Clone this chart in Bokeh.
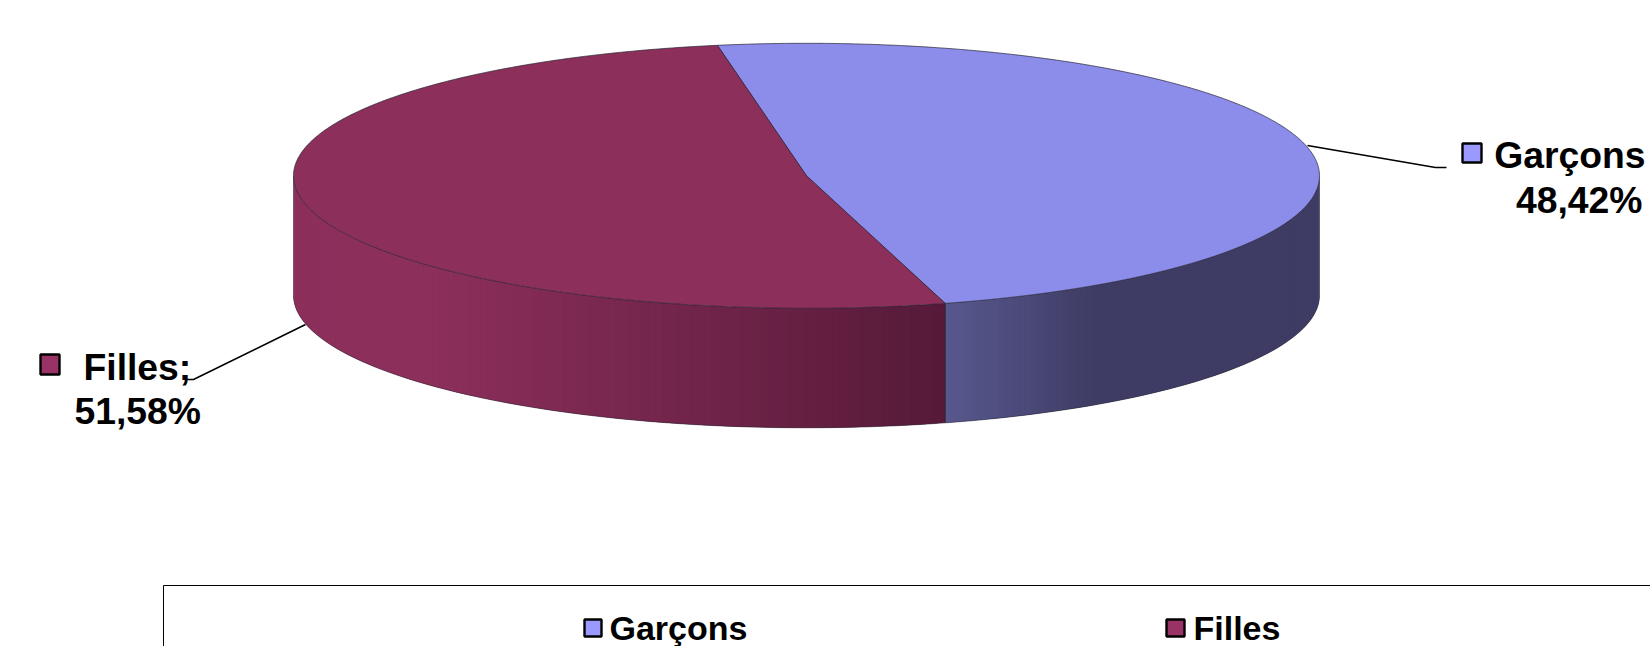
import numpy as np
from bokeh.plotting import figure
from bokeh.models import Range1d
from bokeh.core.properties import value
from bokeh.embed import file_html
from bokeh.resources import INLINE

# data
categories = ["Garçons", "Filles"]
shares = [48.42, 51.58]
share_labels = ["48,42%", "51,58%"]
callout_names = ["Garçons", "Filles;"]
swatch_colors = ["#9999FF", "#993366"]
top_colors = ["#8C8CEB", "#8C2F5B"]

W, H = 1650, 646
CX, CY, RX, RY, DEPTH = 806, 175.3, 513, 132.5, 119.5
START_DEG = -10.0
FONT = value("Liberation Sans")
EDGE = "#22222e"
TEXT_SHIFT = -11.5


def ell(t):
    t = np.radians(t)
    return CX + RX * np.sin(t), CY - RY * np.cos(t)


def lerp_hex(a, b, f):
    ca = [int(a[i:i + 2], 16) for i in (1, 3, 5)]
    cb = [int(b[i:i + 2], 16) for i in (1, 3, 5)]
    return "#%02x%02x%02x" % tuple(int(round(p + (q - p) * f)) for p, q in zip(ca, cb))


def wall(t0, t1, color_at):
    ts = np.arange(t0, t1, 0.8).tolist() + [t1]
    xs, ys, cs = [], [], []
    for i in range(len(ts) - 1):
        a = ts[i]
        b = ts[min(i + 2, len(ts) - 1)]   # overlaps the next strip to hide seams
        xa, ya = ell(a)
        xb_, yb_ = ell(b)
        xm, _ = ell(ts[i + 1])
        xs.append([xa, xb_, xb_, xa])
        ys.append([ya, yb_, yb_ + DEPTH, ya + DEPTH])
        cs.append(color_at((xa + xm) / 2))
    return xs, ys, cs


p = figure(width=W, height=H, x_range=Range1d(0, W), y_range=Range1d(H, 0),
           output_backend="svg", toolbar_location=None, min_border=0,
           background_fill_color="white", border_fill_color="white")
p.styles = {"position": "absolute", "left": "0px", "top": "0px"}
p.axis.visible = False
p.grid.visible = False
p.outline_line_color = None

t_split = START_DEG + shares[0] / sum(shares) * 360
xb, yb = ell(t_split)


def garcons_side(x):
    return lerp_hex("#58588F", "#3E3C64", min(1.0, max(0.0, (x - xb) / 150)))


def filles_side(x):
    return lerp_hex("#8C2F5B", "#561A38", min(1.0, max(0.0, (x - 430) / (xb - 430))))


for t0, t1, fn in [(90, t_split, garcons_side), (t_split, 270, filles_side)]:
    xs, ys, cs = wall(t0, t1, fn)
    p.patches(xs, ys, fill_color=cs, line_color=None)

# wall outline
ts = np.linspace(90, 270, 241)
ex, ey = ell(ts)
p.line(ex, ey + DEPTH, line_color=EDGE, line_width=0.7, line_alpha=0.7)
for t in (90, 270):
    x, y = ell(t)
    p.line([x, x], [y, y + DEPTH], line_color=EDGE, line_width=0.7, line_alpha=0.5)
p.line([xb, xb], [yb, yb + DEPTH], line_color=EDGE, line_width=0.8)

# top face, one wedge per category
ang = START_DEG
total = sum(shares)
for share, color in zip(shares, top_colors):
    span = share / total * 360
    tt = np.linspace(ang, ang + span, 361)
    x, y = ell(tt)
    p.patch([CX] + x.tolist(), [CY] + y.tolist(), fill_color=color,
            line_color=EDGE, line_width=0.8, line_alpha=0.85, line_join="round")
    ang += span

# callouts
p.line([1307, 1435, 1446], [145, 167, 167], line_color="black", line_width=1.6)
p.line([305, 193, 185], [324, 379, 379], line_color="black", line_width=1.6)


def swatch(x0, x1, y0, y1, color):
    p.quad(left=x0, right=x1, top=y0, bottom=y1, fill_color=color,
           line_color="black", line_width=2.4)


swatch(1462, 1481, 143, 162, swatch_colors[0])
swatch(40, 59, 354, 374, swatch_colors[1])


def txt(x, y, s, size, align="left"):
    p.text([x], [y + TEXT_SHIFT], text=[s], text_font=FONT, text_font_style="bold",
           text_font_size=size, text_align=align, text_baseline="alphabetic",
           text_color="black")


txt(1645, 166, callout_names[0], "37.3px", "right")
txt(1642, 211, share_labels[0], "37.3px", "right")
txt(83, 378, callout_names[1], "37.3px")
txt(74, 422, share_labels[1], "37.3px")

# legend box (runs past the right and bottom of the picture)
p.line([163, 163, W], [H, 585, 585], line_color="black", line_width=1)
swatch(584, 601, 619, 636, swatch_colors[0])
swatch(1166, 1184, 619, 636, swatch_colors[1])
txt(609, 639, categories[0], "34px")
txt(1193, 639, categories[1], "34px")

open("out.html", "w").write(file_html(p, INLINE))
